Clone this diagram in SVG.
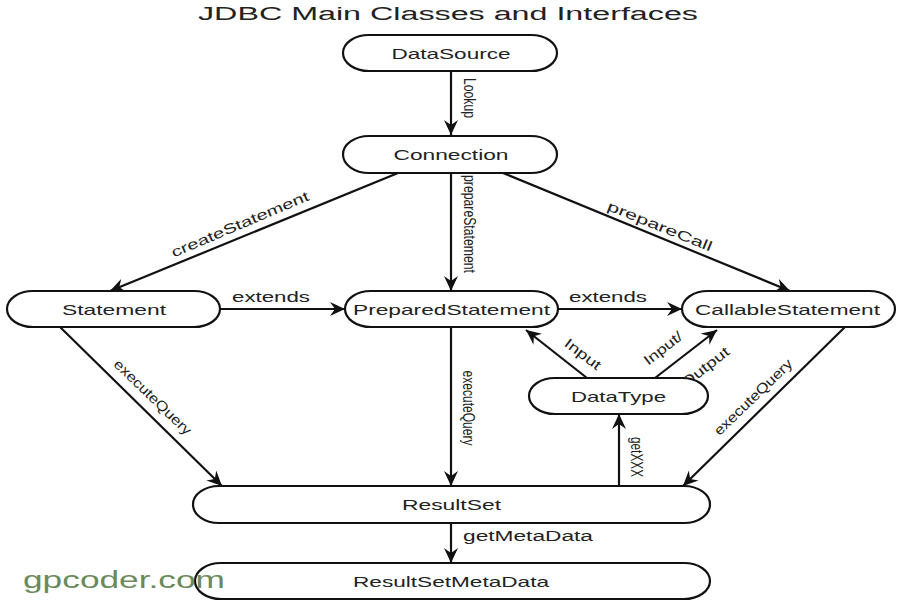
<svg xmlns="http://www.w3.org/2000/svg" width="900" height="603" viewBox="0 0 900 603">
<style>
.node rect{fill:#fff;stroke:#111;stroke-width:2.2}
.node text{font-family:"Liberation Sans",Arial,sans-serif;font-size:15px;fill:#222;text-anchor:middle}
.lbl{font-family:"Liberation Sans",Arial,sans-serif;font-size:14px;fill:#222;text-anchor:middle;dominant-baseline:central}
.vl{font-size:17px}
.hl{font-family:"Liberation Sans",Arial,sans-serif;font-size:14px;fill:#222}
#connectors path{fill:none;stroke:#111;stroke-width:2.2;marker-end:url(#arr)}
</style>
<defs>
<marker id="arr" markerUnits="userSpaceOnUse" markerWidth="16" markerHeight="14" refX="15" refY="7" orient="auto" viewBox="0 0 16 14">
<path d="M0,0 L15,7 L0,14 L5,7 Z" fill="#111"/>
</marker>
</defs>
<rect width="900" height="603" fill="#fff"/>
<text x="448" y="20" font-family="'Liberation Sans',Arial,sans-serif" font-size="18" fill="#222" text-anchor="middle" textLength="500" lengthAdjust="spacingAndGlyphs">JDBC Main Classes and Interfaces</text>

<g id="connectors">
<path d="M451,71 V135"/>
<path d="M398,173 L110,291"/>
<path d="M451,173 V291"/>
<path d="M503,173 L790,291"/>
<path d="M220,309 H345"/>
<path d="M558,309 H682"/>
<path d="M60,327 L222,486"/>
<path d="M451,327 V486"/>
<path d="M587,378 L526,330"/>
<path d="M655,378 L717,330"/>
<path d="M845,327 L683,486"/>
<path d="M619,486 V414"/>
<path d="M451,523 V563"/>
<text class="lbl vl" transform="translate(469,98) rotate(90)" textLength="40" lengthAdjust="spacingAndGlyphs">Lookup</text>
<text class="lbl" transform="translate(240,224) rotate(-23)" textLength="148" lengthAdjust="spacingAndGlyphs">createStatement</text>
<text class="lbl vl" transform="translate(469,224) rotate(90)" textLength="98" lengthAdjust="spacingAndGlyphs">prepareStatement</text>
<text class="lbl" transform="translate(660,226) rotate(22)" textLength="112" lengthAdjust="spacingAndGlyphs">prepareCall</text>
<text class="hl" x="271" y="302" text-anchor="middle" textLength="78" lengthAdjust="spacingAndGlyphs">extends</text>
<text class="hl" x="608" y="302" text-anchor="middle" textLength="78" lengthAdjust="spacingAndGlyphs">extends</text>
<text class="lbl" transform="translate(153,397) rotate(44)" textLength="102" lengthAdjust="spacingAndGlyphs">executeQuery</text>
<text class="lbl vl" transform="translate(468,408) rotate(90)" textLength="75" lengthAdjust="spacingAndGlyphs">executeQuery</text>
<text class="lbl" transform="translate(753,397) rotate(-44)" textLength="103" lengthAdjust="spacingAndGlyphs">executeQuery</text>
<text class="lbl" transform="translate(583,354) rotate(37)" textLength="42" lengthAdjust="spacingAndGlyphs">Input</text>
<text class="lbl" transform="translate(663,348) rotate(-38)" textLength="45" lengthAdjust="spacingAndGlyphs">Input/</text>
<text class="lbl" transform="translate(705,367) rotate(-38)" textLength="57" lengthAdjust="spacingAndGlyphs">Output</text>
<text class="lbl vl" transform="translate(636,457) rotate(90)" textLength="40" lengthAdjust="spacingAndGlyphs">getXXX</text>
<text class="hl" x="463" y="541" textLength="130" lengthAdjust="spacingAndGlyphs">getMetaData</text>
</g>

<g id="DataSource" class="node"><rect x="343" y="35" width="214" height="36" rx="26" ry="18"/><text x="451" y="59" textLength="119" lengthAdjust="spacingAndGlyphs">DataSource</text></g>
<g id="Connection" class="node"><rect x="343" y="136" width="214" height="37" rx="26" ry="18.5"/><text x="451" y="160" textLength="115" lengthAdjust="spacingAndGlyphs">Connection</text></g>
<g id="Statement" class="node"><rect x="7" y="291" width="213" height="36" rx="26" ry="18"/><text x="114" y="315" textLength="104" lengthAdjust="spacingAndGlyphs">Statement</text></g>
<g id="PreparedStatement" class="node"><rect x="345" y="291" width="213" height="36" rx="26" ry="18"/><text x="451.5" y="315" textLength="197" lengthAdjust="spacingAndGlyphs">PreparedStatement</text></g>
<g id="CallableStatement" class="node"><rect x="682" y="291" width="213" height="36" rx="26" ry="18"/><text x="787.5" y="315" textLength="185" lengthAdjust="spacingAndGlyphs">CallableStatement</text></g>
<g id="DataType" class="node"><rect x="529" y="378" width="179" height="36" rx="26" ry="18"/><text x="618.5" y="402" textLength="95" lengthAdjust="spacingAndGlyphs">DataType</text></g>
<g id="ResultSet" class="node"><rect x="193" y="486" width="517" height="37" rx="26" ry="18.5"/><text x="451.5" y="510" textLength="99" lengthAdjust="spacingAndGlyphs">ResultSet</text></g>
<g id="ResultSetMetaData" class="node"><rect x="195" y="563" width="515" height="36" rx="26" ry="18"/><text x="451" y="587" textLength="196" lengthAdjust="spacingAndGlyphs">ResultSetMetaData</text></g>

<text x="23" y="588" font-family="'Liberation Sans',Arial,sans-serif" font-size="23" fill="#6b8a5c" textLength="202" lengthAdjust="spacingAndGlyphs">gpcoder.com</text>
</svg>
